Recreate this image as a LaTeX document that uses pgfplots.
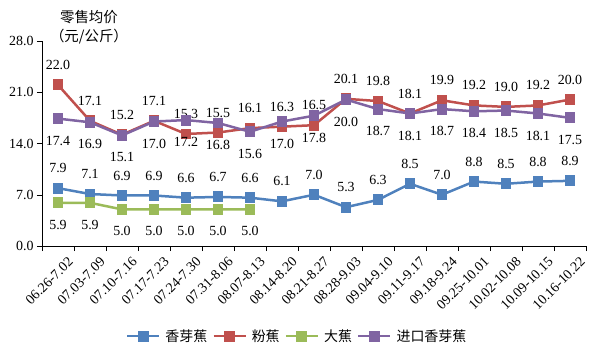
\documentclass[border=0pt]{standalone}
\usepackage{pgfplots}
\pgfplotsset{compat=1.18}
\usepackage{fontspec}
\setmainfont{Liberation Serif}
\newfontfamily\cjk{Noto Sans CJK SC}
\definecolor{cblue}{HTML}{4F81BD}
\definecolor{cred}{HTML}{C0504D}
\definecolor{cgreen}{HTML}{9BBB59}
\definecolor{cpurple}{HTML}{8064A2}
\begin{document}
\begin{tikzpicture}
\useasboundingbox (-42bp,-108bp) rectangle (558bp,246bp);
\begin{axis}[
  at={(0,0)}, anchor=south west,
  scale only axis, width=544bp, height=205bp,
  xmin=-0.5, xmax=16.5, ymin=0, ymax=28,
  axis lines*=left, axis line style={-, black},
  clip=false,
  ytick={0,7,14,21,28},
  xtick={0,...,16},
  xticklabels={06.26-7.02,07.03-7.09,07.10-7.16,07.17-7.23,07.24-7.30,07.31-8.06,08.07-8.13,08.14-8.20,08.21-8.27,08.28-9.03,09.04-9.10,09.11-9.17,09.18-9.24,09.25-10.01,10.02-10.08,10.09-10.15,10.16-10.22},
  major x tick style={draw=none},
  minor xtick={-0.5,0.5,...,16.5},
  minor x tick style={black},
  tick align=outside,
  major tick length=5bp, minor tick length=5bp,
  ytick style={black},
  /pgf/number format/assume math mode=true,
  /pgf/number format/.cd, fixed, fixed zerofill, precision=1, /pgfplots/.cd,
  tick label style={font=\fontsize{14}{14}\selectfont},
  x tick label style={rotate=45, anchor=north east, inner sep=1bp, yshift=-9bp, xshift=4bp},
  nodes near coords style={font=\fontsize{14}{14}\selectfont, text=black, anchor=center},
  legend columns=-1,
  legend style={at={(0.469,-0.44)}, anchor=center, draw=none, fill=none,
    font=\cjk\fontsize{14}{14}\selectfont, column sep=3bp, inner sep=0pt,
    /tikz/every odd column/.append style={column sep=3bp}},
  legend image code/.code={\draw[mark repeat=2,mark phase=2,#1] plot coordinates {(0bp,0bp)(16bp,0bp)(32bp,0bp)};},
  every axis plot/.append style={line width=2.5bp, mark=square*, mark size=4.2bp},
]
\addplot[color=cblue, nodes near coords, every node near coord/.append style={yshift=20bp}] coordinates {
(0,7.9)(1,7.1)(2,6.9)(3,6.9)(4,6.6)(5,6.7)(6,6.6)(7,6.1)(8,7.0)(9,5.3)(10,6.3)(11,8.5)(12,7.0)(13,8.8)(14,8.5)(15,8.8)(16,8.9)};
\addlegendentry{香芽蕉}
\addplot[color=cred, nodes near coords, every node near coord/.append style={yshift=20bp}] coordinates {
(0,22.0)(1,17.1)(2,15.2)(3,17.1)(4,15.3)(5,15.5)(6,16.1)(7,16.3)(8,16.5)(9,20.1)(10,19.8)(11,18.1)(12,19.9)(13,19.2)(14,19.0)(15,19.2)(16,20.0)};
\addlegendentry{粉蕉}
\addplot[color=cgreen, nodes near coords, every node near coord/.append style={yshift=-22bp}] coordinates {
(0,5.9)(1,5.9)(2,5.0)(3,5.0)(4,5.0)(5,5.0)(6,5.0)};
\addlegendentry{大蕉}
\addplot[color=cpurple, nodes near coords, every node near coord/.append style={yshift=-22bp}] coordinates {
(0,17.4)(1,16.9)(2,15.1)(3,17.0)(4,17.2)(5,16.8)(6,15.6)(7,17.0)(8,17.8)(9,20.0)(10,18.7)(11,18.1)(12,18.7)(13,18.4)(14,18.5)(15,18.1)(16,17.5)};
\addlegendentry{进口香芽蕉}
\node[align=center, font=\cjk\fontsize{14.5}{19}\selectfont, inner sep=0pt] at ([xshift=47bp, yshift=14bp]rel axis cs:0,1) {零售均价\\（元/公斤）};
\end{axis}
\end{tikzpicture}
\end{document}
